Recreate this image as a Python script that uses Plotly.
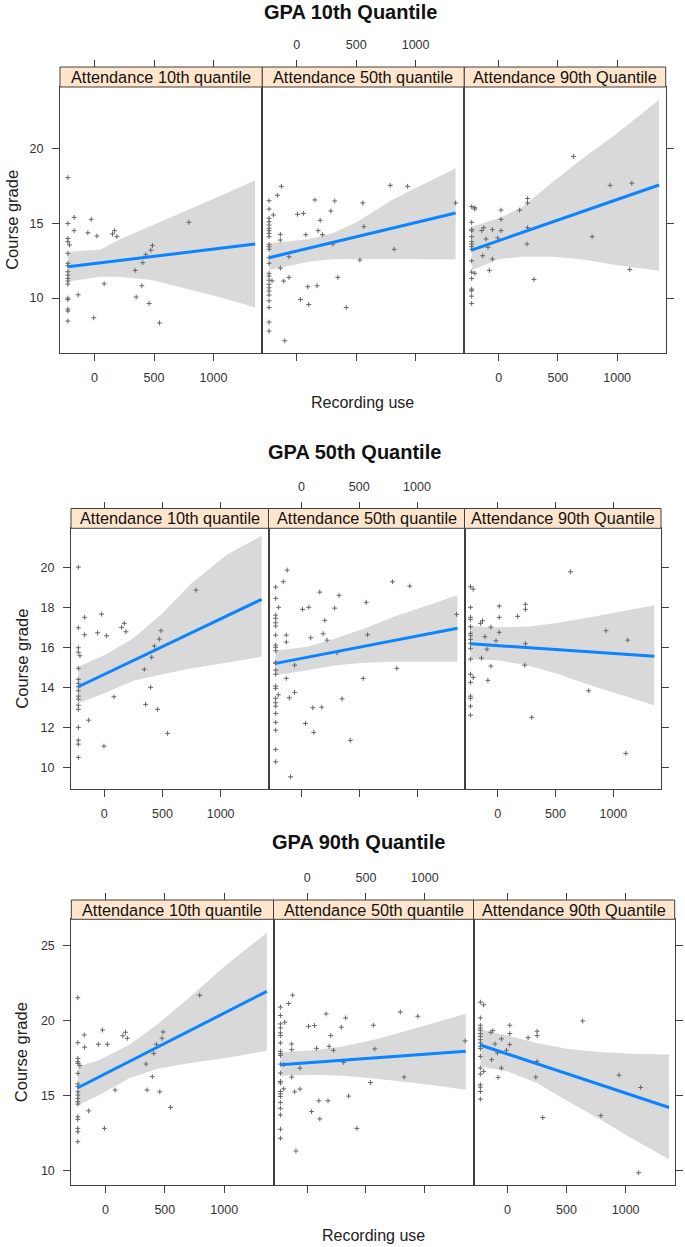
import plotly.graph_objects as go

# ---------------- data ----------------
GROUP_TITLES = ["GPA 10th Quantile", "GPA 50th Quantile", "GPA 90th Quantile"]
PANEL_LABELS = ["Attendance 10th quantile", "Attendance 50th quantile", "Attendance 90th Quantile"]
X_TICKS = [0, 500, 1000]
Y_TICKS_G1 = [10, 15, 20]
Y_TICKS_G2 = [10, 12, 14, 16, 18, 20]
Y_TICKS_G3 = [10, 15, 20, 25]
Y_LABEL = "Course grade"
X_LABEL = "Recording use"

# ---- GPA 10th quantile ----
G1_A10_X = [-224]*12 + [-210] + [-224]*5 + [-171, -171, -137, -56, -28, 20, -6, 81, 151, 168, 188, 342, 350, 406, 398, 431, 459, 473, 487, 546, 793]
G1_A10_Y = [18.08, 15.0, 14.0, 13.78, 13.0, 12.33, 12.17, 11.77, 11.54, 11.32, 11.14, 10.94, 13.56, 10.0, 9.9, 9.26, 9.13, 8.46,
            15.41, 14.52, 10.22, 14.38, 15.28, 14.16, 8.68, 10.96, 14.3, 14.52, 14.12, 11.86, 10.07, 12.37, 10.83, 12.91, 9.64, 13.22, 13.53, 8.34, 15.08]
G1_A10_FIT_X = [-224, 1350]
G1_A10_FIT_Y = [12.1, 13.62]
G1_A10_BAND_X = [-224, 50, 200, 480, 760, 1040, 1350]
G1_A10_BAND_HI = [13.1, 13.25, 13.9, 14.85, 15.8, 16.8, 17.9]
G1_A10_BAND_LO = [11.12, 11.43, 11.43, 11.21, 10.65, 10.09, 9.37]

G1_A50_X = [-233]*25 + [-197, -163, -129, -138, -138, -208, -110, -65, -65, -138, -101, 6, 56, 76, 152, 197, 180, 216, 287, 320, 303,
                        31, 93, 101, 171, 346, 416, 556, 565, 531, 787, 820, 933, 1337]
G1_A50_Y = [16.53, 15.97, 15.35, 15.12, 14.9, 14.68, 14.52, 14.34, 14.12, 13.6, 13.45, 13.27, 12.71, 12.33, 11.66, 11.48, 11.2, 10.92,
            10.69, 10.47, 10.2, 9.82, 9.37, 8.39, 7.79,
            15.57, 16.89, 17.49, 14.27, 13.89, 11.16, 11.14, 11.39, 12.77, 12.01, 7.14, 15.62, 15.68, 14.25, 16.58, 15.21, 14.52, 14.25,
            15.84, 16.51, 13.62, 9.91, 10.76, 9.57, 10.83, 11.39, 9.37, 16.38, 14.79, 12.55, 17.56, 13.27, 17.49, 16.38]
G1_A50_FIT_X = [-233, 1337]
G1_A50_FIT_Y = [12.71, 15.7]
G1_A50_BAND_X = [-233, 100, 300, 500, 800, 1050, 1337]
G1_A50_BAND_HI = [13.67, 13.94, 14.34, 15.06, 16.58, 17.58, 18.7]
G1_A50_BAND_LO = [11.88, 12.44, 12.6, 12.62, 12.62, 12.62, 12.6]

G1_A90_X = [-228]*16 + [-202]*3 + [-143, -126, -107, -135, -90, -53, -53, -79, -8, 20, 20, 20, 177, 244, 244, 244, 239, 298, 632, 789, 941, 1124, 1107]
G1_A90_Y = [16.13, 15.08, 14.61, 14.5, 14.12, 13.78, 13.62, 13.45, 13.27, 12.5, 11.74, 11.32, 10.6, 10.49, 10.13, 9.64,
            16.06, 15.97, 11.66,
            14.52, 14.72, 13.96, 12.84, 13.4, 14.59, 12.62, 11.86, 14.03, 15.9, 15.28, 14.52, 15.9, 16.67, 16.38, 14.72, 13.62, 11.25,
            19.5, 14.12, 17.56, 17.7, 11.92]
G1_A90_FIT_X = [-228, 1354]
G1_A90_FIT_Y = [13.22, 17.58]
G1_A90_BAND_X = [-228, 0, 200, 450, 700, 1000, 1354]
G1_A90_BAND_HI = [14.79, 15.35, 16.1, 17.75, 19.3, 21.05, 23.29]
G1_A90_BAND_LO = [11.88, 12.6, 12.77, 12.77, 12.6, 12.21, 11.83]

# ---- GPA 50th quantile ----
G2_A10_X = [-223]*17 + [-209] + [-169, -169, -135, -57, -23, 20, -3, 83, 149, 172, 186, 344, 355, 398, 407, 430, 458, 473, 487, 544, 788]
G2_A10_Y = [20.03, 17.0, 16.0, 15.78, 14.97, 14.42, 14.22, 14.05, 13.85, 13.58, 13.43, 13.13, 12.92, 12.02, 11.38, 11.18, 10.52, 15.6,
            17.52, 16.65, 12.38, 16.75, 17.68, 16.6, 11.08, 13.55, 17.02, 17.22, 16.8, 14.92, 13.17, 14.02, 15.52, 16.08, 12.92, 16.43,
            16.85, 11.72, 18.88]
G2_A10_FIT_X = [-223, 1352]
G2_A10_FIT_Y = [14.05, 18.42]
G2_A10_BAND_X = [-223, 0, 250, 500, 750, 1050, 1352]
G2_A10_BAND_HI = [15.05, 15.63, 16.47, 17.72, 19.22, 20.63, 21.6]
G2_A10_BAND_LO = [13.22, 13.72, 14.35, 14.68, 14.97, 15.25, 15.55]

G2_A50_X = [-224]*24 + [-198, -201, -158, -124, -132, -132, -132, -106, -60, -60, -95, 9, 63, 80, 158, 187, 201, 221, 98, 175, 34, 106,
                        287, 325, 307, 351, 422, 560, 572, 534, 787, 825, 937, 1342]
G2_A50_Y = [19.03, 18.47, 17.63, 17.47, 17.25, 17.08, 16.63, 16.13, 16.02, 15.85, 15.27, 15.22, 14.88, 14.68, 14.08, 13.97, 13.47,
            13.25, 13.08, 12.72, 12.27, 11.88, 10.92, 10.3,
            18.02, 13.65, 19.3, 19.88, 16.63, 16.28, 14.47, 13.5, 15.13, 13.77, 9.55, 17.92, 18.02, 16.5, 18.78, 16.7, 17.37, 16.38,
            13.0, 13.03, 12.22, 11.77, 17.98, 18.62, 15.75, 13.45, 11.37, 18.27, 16.65, 14.47, 19.3, 14.97, 19.08, 17.67]
G2_A50_FIT_X = [-224, 1350]
G2_A50_FIT_Y = [15.22, 16.97]
G2_A50_BAND_X = [-224, 50, 300, 550, 800, 1050, 1350]
G2_A50_BAND_HI = [15.85, 16.05, 16.47, 16.97, 17.55, 18.05, 18.62]
G2_A50_BAND_LO = [14.63, 14.88, 15.13, 15.25, 15.3, 15.3, 15.3]

G2_A90_X = [-234]*17 + [-211]*2 + [-147, -130, -58, -110, -92, -139, -84, -58, -14, 14, 14, 14, 173, 240, 240, 240, 234, 295, 630, 786, 936, 1124, 1107]
G2_A90_Y = [19.05, 18.02, 17.52, 17.42, 17.05, 16.72, 16.6, 16.42, 16.22, 15.97, 15.43, 14.68, 14.27, 13.58, 13.47, 13.08, 12.63,
            18.93, 14.52,
            17.22, 17.35, 17.03, 16.55, 15.93, 15.48, 14.37, 15.08, 16.35, 18.08, 17.52, 16.77, 17.57, 18.17, 17.92, 16.2, 15.13, 12.52,
            19.8, 13.85, 16.85, 16.38, 10.72]
G2_A90_FIT_X = [-234, 1353]
G2_A90_FIT_Y = [16.2, 15.58]
G2_A90_BAND_X = [-234, 0, 250, 500, 800, 1050, 1353]
G2_A90_BAND_HI = [17.08, 17.02, 17.05, 17.22, 17.52, 17.8, 18.13]
G2_A90_BAND_LO = [15.42, 15.38, 15.13, 14.72, 14.13, 13.68, 13.13]

# ---- GPA 90th quantile ----
G3_A10_X = [-232]*18 + [-215] + [-178, -175, -141, -59, -25, 17, -8, 82, 147, 169, 184, 342, 350, 395, 407, 429, 458, 477, 486, 548, 794]
G3_A10_Y = [21.55, 18.55, 17.5, 17.28, 17.17, 16.5, 15.79, 15.61, 15.27, 15.05, 14.83, 14.61, 14.45, 13.6, 13.43, 12.83, 12.6, 11.94,
            17.03,
            19.06, 18.24, 14.0, 18.44, 19.39, 18.44, 12.83, 15.39, 19.01, 19.24, 18.84, 17.12, 15.39, 16.28, 17.83, 18.44, 15.27, 18.84,
            19.26, 14.23, 21.71]
G3_A10_FIT_X = [-232, 1359]
G3_A10_FIT_Y = [15.54, 21.97]
G3_A10_BAND_X = [-232, -50, 200, 450, 700, 1000, 1359]
G3_A10_BAND_HI = [16.94, 17.39, 18.39, 19.84, 21.51, 23.62, 25.89]
G3_A10_BAND_LO = [14.38, 15.05, 16.17, 16.83, 17.17, 17.5, 18.01]

G3_A50_X = [-228]*22 + [-200]*2 + [-192, -158, -124, -132, -132, -132, -107, -62, -62, -96, 11, 62, 79, 161, 186, 200, 223, 99, 177, 37, 107,
                                  290, 327, 310, 352, 423, 563, 575, 538, 792, 825, 941, 1344]
G3_A50_Y = [20.92, 20.36, 19.8, 19.53, 19.2, 19.02, 18.53, 17.97, 17.81, 17.7, 17.12, 16.52, 15.96, 15.85, 15.29, 15.13, 14.96, 14.55,
            14.17, 13.73, 12.77, 12.17,
            17.08, 15.47,
            19.91, 21.16, 21.72, 18.46, 18.08, 16.25, 15.27, 16.85, 15.45, 11.32, 19.64, 19.69, 18.17, 20.47, 18.3, 19.02, 18.04, 14.67,
            14.67, 13.95, 13.46, 19.58, 20.2, 17.23, 14.98, 12.83, 19.71, 18.13, 15.89, 20.6, 16.25, 20.31, 18.66]
G3_A50_FIT_X = [-228, 1349]
G3_A50_FIT_Y = [17.08, 17.97]
G3_A50_BAND_X = [-228, 50, 300, 550, 800, 1050, 1349]
G3_A50_BAND_HI = [17.9, 18.04, 18.3, 18.71, 19.24, 19.8, 20.47]
G3_A50_BAND_LO = [16.34, 16.41, 16.34, 16.18, 15.96, 15.74, 15.4]

G3_A90_X = [-229]*18 + [-201]*2 + [-141, -124, -105, -133, -85, -51, -51, -79, -8, 20, 20, 20, 175, 251, 251, 251, 240, 299, 636, 791, 944, 1127, 1110]
G3_A90_Y = [21.25, 20.2, 19.71, 19.53, 19.38, 19.15, 18.97, 18.75, 18.53, 18.3, 18.15, 17.63, 16.85, 16.45, 15.74, 15.58, 15.29, 14.78,
            21.07, 16.63,
            19.24, 19.35, 18.46, 17.41, 17.86, 18.8, 16.85, 16.23, 18.04, 19.71, 19.15, 18.42, 18.88, 19.31, 19.02, 17.3, 16.25, 13.55,
            20.0, 13.68, 16.38, 15.56, 9.87]
G3_A90_FIT_X = [-229, 1367]
G3_A90_FIT_Y = [18.39, 14.22]
G3_A90_BAND_X = [-229, 0, 250, 500, 800, 1050, 1367]
G3_A90_BAND_HI = [19.42, 19.02, 18.53, 18.15, 17.9, 17.81, 17.75]
G3_A90_BAND_LO = [16.96, 16.63, 15.85, 14.69, 13.35, 12.17, 10.76]

PANELS = [
    (G1_A10_X, G1_A10_Y, G1_A10_FIT_X, G1_A10_FIT_Y, G1_A10_BAND_X, G1_A10_BAND_HI, G1_A10_BAND_LO),
    (G1_A50_X, G1_A50_Y, G1_A50_FIT_X, G1_A50_FIT_Y, G1_A50_BAND_X, G1_A50_BAND_HI, G1_A50_BAND_LO),
    (G1_A90_X, G1_A90_Y, G1_A90_FIT_X, G1_A90_FIT_Y, G1_A90_BAND_X, G1_A90_BAND_HI, G1_A90_BAND_LO),
    (G2_A10_X, G2_A10_Y, G2_A10_FIT_X, G2_A10_FIT_Y, G2_A10_BAND_X, G2_A10_BAND_HI, G2_A10_BAND_LO),
    (G2_A50_X, G2_A50_Y, G2_A50_FIT_X, G2_A50_FIT_Y, G2_A50_BAND_X, G2_A50_BAND_HI, G2_A50_BAND_LO),
    (G2_A90_X, G2_A90_Y, G2_A90_FIT_X, G2_A90_FIT_Y, G2_A90_BAND_X, G2_A90_BAND_HI, G2_A90_BAND_LO),
    (G3_A10_X, G3_A10_Y, G3_A10_FIT_X, G3_A10_FIT_Y, G3_A10_BAND_X, G3_A10_BAND_HI, G3_A10_BAND_LO),
    (G3_A50_X, G3_A50_Y, G3_A50_FIT_X, G3_A50_FIT_Y, G3_A50_BAND_X, G3_A50_BAND_HI, G3_A50_BAND_LO),
    (G3_A90_X, G3_A90_Y, G3_A90_FIT_X, G3_A90_FIT_Y, G3_A90_BAND_X, G3_A90_BAND_HI, G3_A90_BAND_LO),
]
Y_TICKS = [Y_TICKS_G1, Y_TICKS_G2, Y_TICKS_G3]

# ---------------- layout geometry (pixels in the reference picture) ----------------
W, H = 685, 1247
GEOM = [
    dict(xb=[60, 262.3, 464.3, 665.7], top=87, bottom=352.7, strip_top=67, title_x=350, title_y=12,
         xr=[-290, 1410], yr=[6.34, 24.15], ylab_x=12, xlab_y=403),
    dict(xb=[71, 268.5, 464.5, 661], top=528.3, bottom=789, strip_top=508.5, title_x=354, title_y=452,
         xr=[-286, 1411], yr=[8.94, 21.97], ylab_x=22, xlab_y=None),
    dict(xb=[71.3, 273.5, 473.5, 674.7], top=919.3, bottom=1185, strip_top=900, title_x=358, title_y=842,
         xr=[-287, 1415], yr=[9.05, 26.78], ylab_x=21, xlab_y=1235),
]

FONT = "Liberation Sans, Arial, sans-serif"
AX_COLOR = "#404040"
TICK_FONT = dict(family=FONT, size=12.5, color="#333333")
BAND_COLOR = "#D9D9D9"
LINE_COLOR = "#0A84FF"
PT_COLOR = "#666666"


def px(xp):
    return xp / W


def py(yp):
    return 1 - yp / H


fig = go.Figure()
layout = dict(width=W, height=H, margin=dict(l=0, r=0, t=0, b=0), paper_bgcolor="white",
              plot_bgcolor="white", showlegend=False, font=dict(family=FONT, color="#222"))
shapes = []
annotations = []

for g in range(3):
    G = GEOM[g]
    for p in range(3):
        idx = g * 3 + p + 1
        xs, ys, fx, fy, bx, bhi, blo = PANELS[idx - 1]
        xa = "x" if idx == 1 else f"x{idx}"
        ya = "y" if idx == 1 else f"y{idx}"
        fig.add_trace(go.Scatter(x=bx + bx[::-1], y=bhi + blo[::-1], fill="toself", fillcolor=BAND_COLOR,
                                 line=dict(width=0), mode="lines", xaxis=xa, yaxis=ya, hoverinfo="skip"))
        fig.add_trace(go.Scatter(x=xs, y=ys, mode="markers", xaxis=xa, yaxis=ya,
                                 marker=dict(symbol="cross-thin", size=3.5, line=dict(width=1, color=PT_COLOR), color=PT_COLOR)))
        fig.add_trace(go.Scatter(x=fx, y=fy, mode="lines", line=dict(color=LINE_COLOR, width=3), xaxis=xa, yaxis=ya))
        # dummy trace for the top tick axis
        fig.add_trace(go.Scatter(x=[None], y=[None], mode="markers", xaxis=f"x{idx + 9}", yaxis=ya, hoverinfo="skip"))

        x0, x1 = G["xb"][p], G["xb"][p + 1]
        layout[f"xaxis{idx}"] = dict(domain=[px(x0), px(x1)], range=G["xr"], tickvals=X_TICKS, ticks="outside",
                                     ticklen=7, tickcolor=AX_COLOR, tickwidth=1, showline=True, linecolor=AX_COLOR,
                                     linewidth=1, mirror=True, showgrid=False, zeroline=False,
                                     showticklabels=(p != 1), tickfont=TICK_FONT, anchor=ya,
                                     ticklabelstandoff=6)
        layout[f"yaxis{idx}"] = dict(domain=[py(G["bottom"]), py(G["top"])], range=G["yr"], tickvals=Y_TICKS[g],
                                     ticks=("" if p == 1 else "outside"), ticklen=7, tickcolor=AX_COLOR, tickwidth=1,
                                     side=("right" if p == 2 else "left"), showline=True, linecolor=AX_COLOR,
                                     linewidth=1, mirror=True, showgrid=False, zeroline=False,
                                     showticklabels=(p == 0), tickfont=TICK_FONT, anchor=xa,
                                     ticklabelstandoff=6)
        layout[f"xaxis{idx + 9}"] = dict(overlaying=xa, anchor="free", position=py(G["strip_top"]), side="top",
                                         range=G["xr"], tickvals=X_TICKS, ticks="outside", ticklen=7,
                                         tickcolor=AX_COLOR, tickwidth=1, showline=False, showgrid=False,
                                         zeroline=False, showticklabels=(p == 1), tickfont=TICK_FONT,
                                         ticklabelstandoff=6)
        # strip
        shapes.append(dict(type="rect", xref="paper", yref="paper", x0=px(x0), x1=px(x1), y0=py(G["top"]),
                           y1=py(G["strip_top"]), fillcolor="#FFE5CC", line=dict(color=AX_COLOR, width=1)))
        annotations.append(dict(text=PANEL_LABELS[p], xref="paper", yref="paper", x=px((x0 + x1) / 2),
                                y=py((G["top"] + G["strip_top"]) / 2), showarrow=False, xanchor="center",
                                yanchor="middle", font=dict(family=FONT, size=16.3, color="#111")))
    # group title
    annotations.append(dict(text=f"<b>{GROUP_TITLES[g]}</b>", xref="paper", yref="paper", x=px(G["title_x"]),
                            y=py(G["title_y"]), showarrow=False, xanchor="center", yanchor="middle",
                            font=dict(family=FONT, size=20, color="#111")))
    annotations.append(dict(text=Y_LABEL, xref="paper", yref="paper", x=px(G["ylab_x"]),
                            y=py((G["top"] + G["bottom"]) / 2), showarrow=False, textangle=-90,
                            xanchor="center", yanchor="middle", font=dict(family=FONT, size=16.5, color="#222")))
    if G["xlab_y"] is not None:
        annotations.append(dict(text=X_LABEL, xref="paper", yref="paper",
                                x=px((G["xb"][0] + G["xb"][3]) / 2), y=py(G["xlab_y"]), showarrow=False,
                                xanchor="center", yanchor="middle", font=dict(family=FONT, size=16, color="#222")))

layout["shapes"] = shapes
layout["annotations"] = annotations
fig.update_layout(**layout)
fig.write_html("out.html", config={"displayModeBar": False},
               post_script="document.body.style.margin='0px';")
